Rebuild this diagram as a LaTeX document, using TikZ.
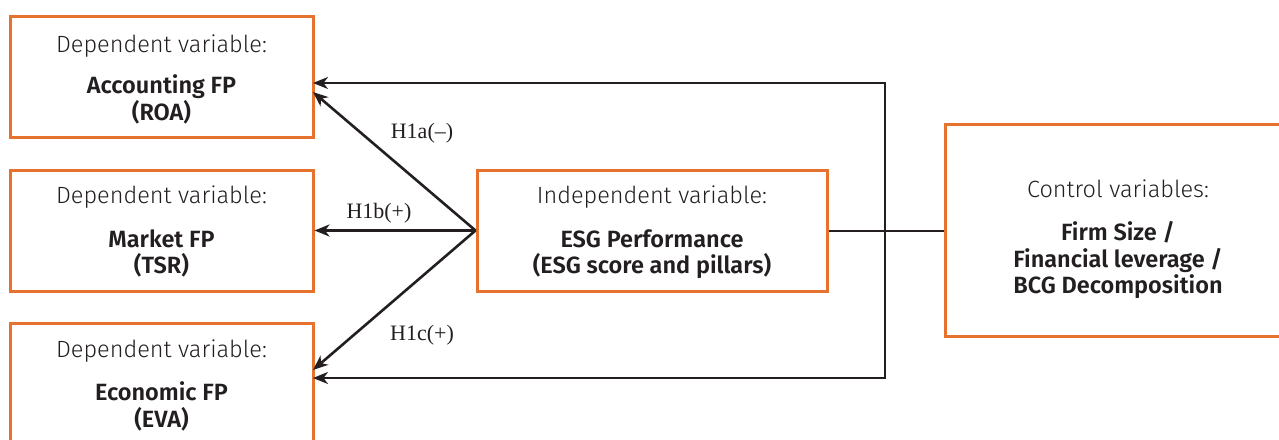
\documentclass[tikz,border=0pt]{standalone}
\usepackage{fontspec}
\setmainfont{Fira Sans}
\newfontfamily\lightf{Fira Sans}[UprightFont=* Light]
\newfontfamily\boldf{Fira Sans}[UprightFont=* SemiBold]
\newfontfamily\serf{Liberation Serif}
\usetikzlibrary{arrows.meta}
\definecolor{orng}{RGB}{230,115,45}
\definecolor{ink}{RGB}{35,31,32}
\tikzset{
  box/.style={draw=orng, line width=3pt, inner sep=0pt},
  lighttxt/.style={anchor=base, inner sep=0pt, text=ink, font=\lightf\fontsize{23.5}{28}\selectfont},
  boldtxt/.style={anchor=base, inner sep=0pt, text=ink, font=\boldf\fontsize{23.5}{28}\selectfont},
  hyp/.style={anchor=base, inner sep=0pt, text=ink, font=\serf\fontsize{22}{26}\selectfont},
  arr/.style={draw=ink, line width=2.6pt, -{Stealth[length=15pt,width=12pt,inset=4.5pt]}},
  fb/.style={draw=ink, line width=2pt},
  fbarr/.style={fb, -{Stealth[length=15pt,width=12pt,inset=4.5pt]}}
}
\begin{document}
\begin{tikzpicture}[x=1pt,y=-1pt]
\useasboundingbox (0,0) rectangle (1279,439);
\clip (0,0) rectangle (1279,439);
% boxes
\node[box, minimum width=303pt, minimum height=121pt] (acc) at (161.5,76.5) {};
\node[box, minimum width=303pt, minimum height=121pt] (tsr) at (161.5,230.5) {};
\node[box, minimum width=303pt, minimum height=121pt] (eva) at (161.5,383.5) {};
\node[box, minimum width=350pt, minimum height=121pt] (esg) at (652,230.5) {};
\node[box, minimum width=346pt, minimum height=212pt] (ctrl) at (1118,230.5) {};
% texts
\node[lighttxt] (t1) at (161.5,52) {Dependent variable:};
\node[boldtxt] (t2) at (161.5,93) {Accounting FP};
\node[boldtxt] (t3) at (161.5,120) {(ROA)};
\node[lighttxt] (t4) at (161.5,203) {Dependent variable:};
\node[boldtxt] (t5) at (161.5,247) {Market FP};
\node[boldtxt] (t6) at (161.5,273) {(TSR)};
\node[lighttxt] (t7) at (161.5,357) {Dependent variable:};
\node[boldtxt] (t8) at (161.5,400) {Economic FP};
\node[boldtxt] (t9) at (161.5,427) {(EVA)};
\node[lighttxt] (t10) at (652,203) {Independent variable:};
\node[boldtxt] (t11) at (652,247) {ESG Performance};
\node[boldtxt] (t12) at (652,273) {(ESG score and pillars)};
\node[lighttxt] (t13) at (1118,197) {Control variables:};
\node[boldtxt] (t14) at (1118,240) {Firm Size /};
\node[boldtxt] (t15) at (1118,267) {Financial leverage /};
\node[boldtxt] (t16) at (1118,293) {BCG Decomposition};
% connector end points
\coordinate (accIn) at (313,92);
\coordinate (evaIn) at (313,370);
\coordinate (accTop) at (313,83);
\coordinate (evaBot) at (313,378);
\coordinate (jn) at (885,230.5);
% hypotheses arrows
\draw[arr] (esg.west) -- (accIn);
\draw[arr] (esg.west) -- (tsr.east);
\draw[arr] (esg.west) -- (evaIn);
% control links
\draw[fb] (esg.east) -- (ctrl.west);
\draw[fbarr] (jn) |- (accTop);
\draw[fbarr] (jn) |- (evaBot);
% labels
\node[hyp] (h1a) at (422,138) {H1a(–)};
\node[hyp] (h1b) at (379,218) {H1b(+)};
\node[hyp] (h1c) at (422,340) {H1c(+)};
\end{tikzpicture}
\end{document}
